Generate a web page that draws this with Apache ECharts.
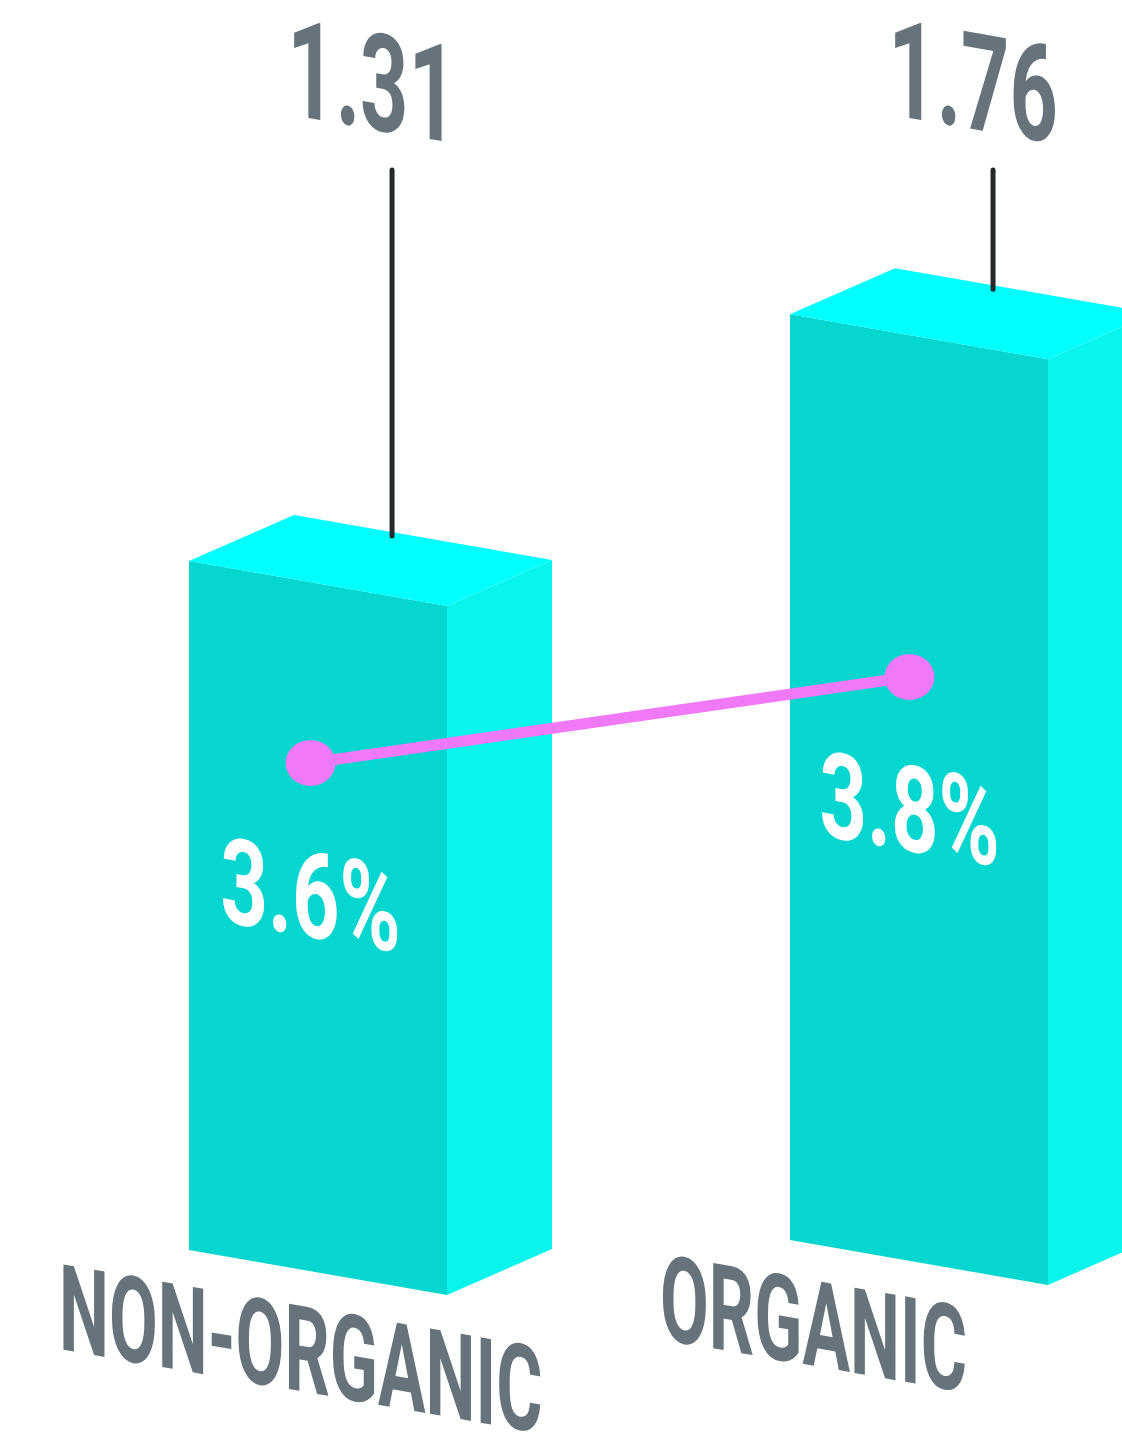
<!DOCTYPE html>
<html>
<head>
<meta charset="utf-8">
<script src="https://cdn.jsdelivr.net/npm/echarts@6/dist/echarts.min.js"></script>
<style>
  html, body { margin: 0; padding: 0; background: #ffffff; }
  #chart { width: 1122px; height: 1435px; }
</style>
</head>
<body>
<div id="chart"></div>
<script>
// Average price per item, non-organic vs organic
const categories = ['NON-ORGANIC', 'ORGANIC'];
const priceValues = [1.31, 1.76];
// Share of spend (%)
const shareValues = [3.6, 3.8];

// Drawing constants for the pseudo-3D boxes
const FACE_RATIO = 258 / 601;   // front face width relative to category band
const SLOPE = 45 / 258;         // downward slope of the front face edges
const DEPTH_X = 105 / 258;      // depth vector relative to face width
const DEPTH_Y = 46 / 258;
const TILT = -10 / 601;         // slight tilt of the ground plane
const SKEW = -Math.atan(SLOPE); // text skew following the box perspective

const COLOR_FRONT = '#05D6D0';
const COLOR_SIDE = '#08F4EC';
const COLOR_TOP = '#00FFFF';
const COLOR_TEXT = '#66737A';
const COLOR_LEADER = '#25292E';
const COLOR_RATE = '#F07AF5';
const FONT = 'Roboto, "Liberation Sans", sans-serif';

function renderBox(params, api) {
  const i = api.value(0);
  const v = api.value(1);
  const origin0 = api.coord([0, 0]);
  const base = api.coord([i, 0]);
  const top = api.coord([i, v]);
  const band = api.size([1, 0])[0];
  const w = band * FACE_RATIO;
  const tilt = TILT * (base[0] - origin0[0]);
  const L = base[0] - w / 2;
  const R = L + w;
  const yb = base[1] + tilt;
  const yt = top[1] + tilt;
  const drop = w * SLOPE;
  const dx = w * DEPTH_X;
  const dy = -w * DEPTH_Y;

  const leaderX = L + w * 0.787;
  const leaderTop = 170;
  const leaderBottom = yt - 25;

  return {
    type: 'group',
    children: [
      {
        type: 'polygon',
        shape: { points: [[L, yt], [R, yt + drop], [R, yb + drop], [L, yb]] },
        style: { fill: COLOR_FRONT }
      },
      {
        type: 'polygon',
        shape: { points: [[R, yt + drop], [R + dx, yt + drop + dy], [R + dx, yb + drop + dy], [R, yb + drop]] },
        style: { fill: COLOR_SIDE }
      },
      {
        type: 'polygon',
        shape: { points: [[L, yt], [L + dx, yt + dy], [R + dx, yt + drop + dy], [R, yt + drop]] },
        style: { fill: COLOR_TOP }
      },
      {
        type: 'line',
        shape: { x1: leaderX, y1: leaderTop, x2: leaderX, y2: leaderBottom },
        style: { stroke: COLOR_LEADER, lineWidth: 5, lineCap: 'round' }
      },
      {
        type: 'text',
        x: leaderX - 20,
        y: 95,
        scaleX: 0.62,
        skewY: SKEW,
        style: {
          x: 0, y: 0,
          text: v.toFixed(2),
          fill: COLOR_TEXT,
          font: 'bold 136px ' + FONT,
          align: 'center',
          verticalAlign: 'middle'
        }
      },
      {
        type: 'text',
        x: L - 130,
        y: yb + 69,
        scaleX: 0.59,
        skewY: SKEW,
        style: {
          x: 0, y: 0,
          text: categories[params.dataIndex],
          fill: COLOR_TEXT,
          font: 'bold 120px ' + FONT,
          align: 'left',
          verticalAlign: 'middle'
        }
      }
    ]
  };
}

function renderShareLabel(params, api) {
  const i = api.value(0);
  const v = api.value(1);
  const p = api.coord([i, v]);
  return {
    type: 'text',
    x: p[0],
    y: p[1] + 144,
    scaleX: 0.69,
    skewY: SKEW,
    style: {
      x: 0, y: 0,
      text: v.toFixed(1) + '%',
      fill: '#ffffff',
      font: 'bold 120px ' + FONT,
      align: 'center',
      verticalAlign: 'middle'
    }
  };
}

const chart = echarts.init(document.getElementById('chart'), null, { renderer: 'canvas' });
chart.setOption({
  backgroundColor: '#ffffff',
  animation: false,
  grid: [
    { left: 17.5, width: 1202, top: 198, height: 1052, outerBoundsMode: 'none', containLabel: false },
    { left: 11, width: 1198, top: 591, height: 430, outerBoundsMode: 'none', containLabel: false }
  ],
  xAxis: [
    { type: 'category', gridIndex: 0, data: categories, show: false },
    { type: 'category', gridIndex: 1, data: categories, show: false }
  ],
  yAxis: [
    { type: 'value', gridIndex: 0, min: 0, max: 2, show: false, splitLine: { show: false } },
    { type: 'value', gridIndex: 1, min: 3, max: 4, show: false, splitLine: { show: false } }
  ],
  series: [
    {
      type: 'custom',
      xAxisIndex: 0,
      yAxisIndex: 0,
      renderItem: renderBox,
      data: priceValues.map((v, i) => [i, v]),
      z: 2
    },
    {
      type: 'line',
      xAxisIndex: 1,
      yAxisIndex: 1,
      data: shareValues,
      symbol: 'circle',
      symbolSize: [50, 46],
      lineStyle: { color: COLOR_RATE, width: 11 },
      itemStyle: { color: COLOR_RATE },
      label: { show: false },
      z: 5
    },
    {
      type: 'custom',
      xAxisIndex: 1,
      yAxisIndex: 1,
      renderItem: renderShareLabel,
      data: shareValues.map((v, i) => [i, v]),
      z: 6
    }
  ]
});
</script>
</body>
</html>
